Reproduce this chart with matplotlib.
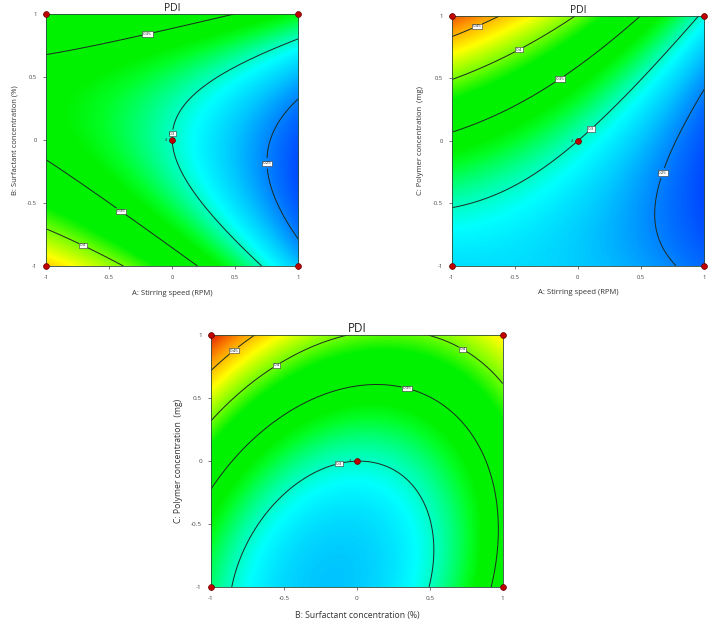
import numpy as np
import matplotlib
matplotlib.use("Agg")
import matplotlib.pyplot as plt
from matplotlib.colors import LinearSegmentedColormap, Normalize

plt.rcParams['font.family'] = ['Open Sans', 'DejaVu Sans']

# ---- data: coded quadratic response-surface model for PDI ----
intercept = 0.30
linear = {"A": -0.055, "B": -0.002, "C": 0.063}
interaction = {"AB": 0.0324, "AC": -0.036, "BC": -0.026}
quadratic = {"A": -0.012, "B": 0.066, "C": 0.035}

factor_labels = {
    "A": "A: Stirring speed (RPM)",
    "B": "B: Surfactant concentration (%)",
    "C": "C: Polymer concentration  (mg)",
}
tick_values = [-1, -0.5, 0, 0.5, 1]
tick_labels = ["-1", "-0.5", "0", "0.5", "1"]
contour_levels = [0.25, 0.30, 0.35, 0.40, 0.45]
design_x = [-1, 1, -1, 1, 0]
design_y = [-1, -1, 1, 1, 0]
center_reps = "4"
title = "PDI"

panels = [
    ("A", "B"),
    ("A", "C"),
    ("B", "C"),
]
label_pos = [
    [(-0.2, 0.86), (0.0, 0.05), (0.775, -0.185), (-0.40, -0.556), (-0.70, -0.82)],
    [(-0.81, 0.947), (-0.472, 0.746), (-0.147, 0.50), (0.096, 0.105), (0.664, -0.255)],
    [(-0.842, 0.873), (-0.55, 0.757), (0.719, 0.876), (0.342, 0.577), (-0.127, -0.004)],
]


def model(x, y, fx, fy):
    v = {"A": 0.0, "B": 0.0, "C": 0.0}
    v[fx] = x
    v[fy] = y
    z = intercept
    for k in "ABC":
        z = z + linear[k] * v[k] + quadratic[k] * v[k] ** 2
    z = z + interaction["AB"] * v["A"] * v["B"]
    z = z + interaction["AC"] * v["A"] * v["C"]
    z = z + interaction["BC"] * v["B"] * v["C"]
    return z


cmap = LinearSegmentedColormap.from_list("de", [
    (0.000, (0.0, 0.20, 1.0)),
    (0.089, (0.0, 0.45, 1.0)),
    (0.179, (0.0, 0.78, 1.0)),
    (0.250, (0.0, 1.0, 1.0)),
    (0.304, (0.0, 1.0, 0.65)),
    (0.375, (0.0, 1.0, 0.15)),
    (0.410, (0.0, 0.95, 0.0)),
    (0.570, (0.0, 0.95, 0.0)),
    (0.643, (0.45, 1.0, 0.0)),
    (0.750, (1.0, 1.0, 0.0)),
    (0.857, (1.0, 0.6, 0.0)),
    (0.964, (0.9, 0.15, 0.0)),
    (1.000, (0.85, 0.0, 0.0)),
])
norm = Normalize(vmin=0.22, vmax=0.50)

fig = plt.figure(figsize=(7.08, 6.25), dpi=100)
rects = [
    [0.065, 0.5744, 0.3564, 0.4032],
    [0.638, 0.5749, 0.3564, 0.3995],
    [0.298, 0.0603, 0.412, 0.4037],
]
title_fs = [7.5, 7.5, 8.5]
lab_fs = [5.5, 5.5, 6.2]
tick_fs = [4.2, 4.2, 4.6]

g = np.linspace(-1, 1, 301)
for i, (fx, fy) in enumerate(panels):
    ax = fig.add_axes(rects[i])
    X, Y = np.meshgrid(g, g)
    Z = model(X, Y, fx, fy)
    ax.imshow(Z, extent=(-1, 1, -1, 1), origin="lower", cmap=cmap, norm=norm,
              interpolation="bilinear", aspect="auto")
    cs = ax.contour(X, Y, Z, levels=contour_levels, colors="#1c2a22", linewidths=0.7)
    texts = ax.clabel(cs, fmt="%g", fontsize=3.2, inline=True, inline_spacing=1,
                      manual=label_pos[i])
    for t in texts:
        t.set_rotation(0)
        t.set_bbox(dict(boxstyle="square,pad=0.15", fc="white", ec="#333333", lw=0.4))
    ax.plot(design_x, design_y, "o", color="#c00000", mec="#600000", mew=0.5,
            ms=4.2, clip_on=False, zorder=5)
    ax.text(-0.04, 0.0, center_reps, fontsize=3, ha="right", va="center", color="#333333")
    ax.set_xlim(-1, 1)
    ax.set_ylim(-1, 1)
    ax.set_xticks(tick_values)
    ax.set_xticklabels(tick_labels)
    ax.set_yticks(tick_values)
    ax.set_yticklabels(tick_labels)
    ax.tick_params(labelsize=tick_fs[i], length=2.5, width=0.5, colors="#444444", pad=4)
    ax.set_xlabel(factor_labels[fx], fontsize=lab_fs[i], color="#333333", labelpad=7)
    ax.set_ylabel(factor_labels[fy], fontsize=lab_fs[i], color="#333333", labelpad=6)
    ax.set_title(title, fontsize=title_fs[i], color="#222222", pad=2)
    for s in ax.spines.values():
        s.set_linewidth(0.6)
        s.set_color("#2a4a3a")

fig.savefig("out.png", dpi=100)
